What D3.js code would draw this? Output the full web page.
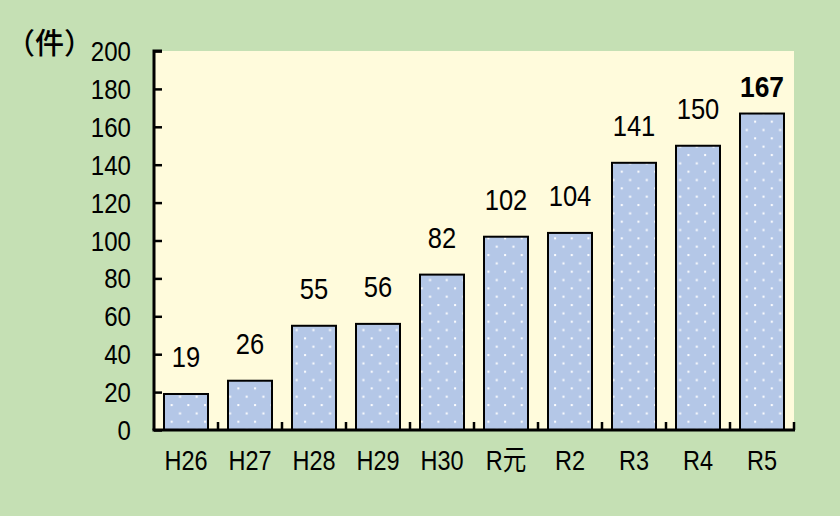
<!DOCTYPE html>
<html><head><meta charset="utf-8">
<script src="https://cdn.jsdelivr.net/npm/d3@7"></script>
<style>
html,body{margin:0;padding:0;background:#C5E0B4;}
svg{display:block;}
text{font-family:"Liberation Sans","Noto Sans CJK JP",sans-serif;fill:#000;}
</style></head>
<body>
<script>
const categories = ["H26","H27","H28","H29","H30","R元","R2","R3","R4","R5"];
const values = [19,26,55,56,82,102,104,141,150,167];
const yTicks = [0,20,40,60,80,100,120,140,160,180,200];
const unitLabel = "（件）";

const W = 840, H = 516;
const m = {left:154, right:46, top:51, bottom:86};
const svg = d3.select("body").append("svg").attr("width",W).attr("height",H);
svg.append("rect").attr("width",W).attr("height",H).attr("fill","#C5E0B4");

const defs = svg.append("defs");
const P = 16.67;
const pat = defs.append("pattern").attr("id","dots").attr("patternUnits","userSpaceOnUse")
  .attr("width",P).attr("height",P);
pat.append("rect").attr("width",P).attr("height",P).attr("fill","#B4C7E7");
pat.append("rect").attr("x",4).attr("y",4).attr("width",2).attr("height",2).attr("fill","#fff");
pat.append("rect").attr("x",4+P/2).attr("y",4+P/2).attr("width",2).attr("height",2).attr("fill","#fff");

const x = d3.scaleBand().domain(categories).range([m.left, W-m.right])
  .paddingInner(0.3125).paddingOuter(0.15625);
const y = d3.scaleLinear().domain([0,200]).range([H-m.bottom, m.top]);

svg.append("rect").attr("x",m.left).attr("y",m.top)
  .attr("width",W-m.right-m.left).attr("height",H-m.bottom-m.top).attr("fill","#FFFBDC");

// bars
svg.selectAll("rect.bar").data(values).join("rect").attr("class","bar")
  .attr("x",(d,i)=>x(categories[i])).attr("width",x.bandwidth())
  .attr("y",d=>y(d)).attr("height",d=>y(0)-y(d))
  .attr("fill","url(#dots)").attr("stroke","#000").attr("stroke-width",2);

// condensed text helper
function ctext(g, sx){
  return g.attr("transform",function(){
    const tx=+this.getAttribute("data-x"), ty=+this.getAttribute("data-y");
    return `translate(${tx},${ty}) scale(${sx},1)`;
  });
}

// y axis
const yAxis = d3.axisRight(y).tickValues(yTicks).tickSize(8).tickFormat("");
const gy = svg.append("g").attr("transform",`translate(${m.left},0)`).call(yAxis);
gy.select(".domain").attr("d",`M8,${y(200)}H0V${y(0)}`).attr("stroke","#000").attr("stroke-width",3);
gy.selectAll(".tick line").attr("stroke","#000").attr("stroke-width",2.5);
ctext(svg.append("g").selectAll("text").data(yTicks).join("text")
  .attr("data-x",131).attr("data-y",d=>y(d)+10).attr("text-anchor","end")
  .attr("font-size",28).text(d=>d), 0.86);

// x axis
const step = x.step();
const bounds = categories.map(c=>x(c)+x.bandwidth()+(step-x.bandwidth())/2);
svg.append("line").attr("x1",m.left-1.5).attr("x2",W-m.right+1).attr("y1",y(0)).attr("y2",y(0))
  .attr("stroke","#000").attr("stroke-width",3);
svg.append("g").selectAll("line").data(bounds).join("line")
  .attr("x1",d=>d).attr("x2",d=>d).attr("y1",y(0)).attr("y2",y(0)-8)
  .attr("stroke","#000").attr("stroke-width",2.5);
ctext(svg.append("g").selectAll("text").data(categories).join("text")
  .attr("data-x",d=>x(d)+x.bandwidth()/2).attr("data-y",470).attr("text-anchor","middle")
  .attr("font-size",28).text(d=>d), 0.84);

// value labels
ctext(svg.append("g").selectAll("text").data(values).join("text")
  .attr("data-x",(d,i)=>x(categories[i])+x.bandwidth()/2)
  .attr("data-y",d=>Math.max(y(d)-27, m.top+46))
  .attr("text-anchor","middle")
  .attr("font-size",(d,i)=>i===values.length-1?30:29)
  .attr("font-weight",(d,i)=>i===values.length-1?"bold":"normal")
  .text(d=>d), 0.88);

// unit label
svg.append("text").attr("x",6).attr("y",54).attr("font-size",29).attr("font-weight",500)
  .style("font-family","'Noto Sans CJK JP',sans-serif").text(unitLabel);
</script>
</body></html>
